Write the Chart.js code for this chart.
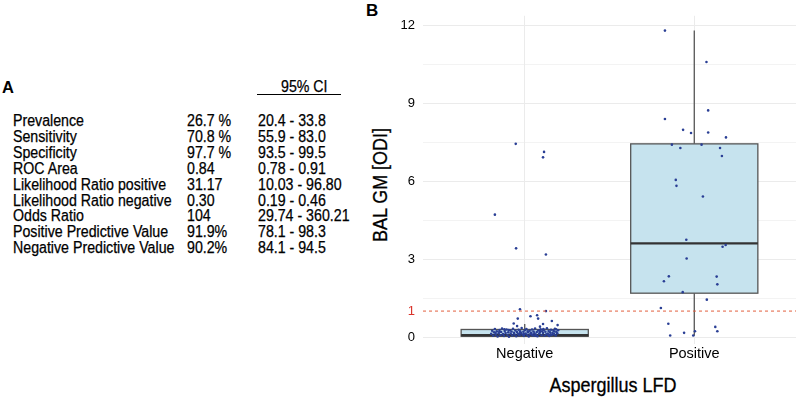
<!DOCTYPE html>
<html>
<head>
<meta charset="utf-8">
<script src="https://cdn.jsdelivr.net/npm/chart.js@4/dist/chart.umd.min.js"></script>
<style>
  html, body { margin: 0; padding: 0; background: #fff; }
  body { width: 800px; height: 398px; position: relative; overflow: hidden;
         font-family: "Liberation Sans", Arial, sans-serif; color: #000; }
  .t { position: absolute; white-space: nowrap; font-size: 15.6px; line-height: 16px;
       transform-origin: 0 50%; transform: scaleX(0.91); -webkit-text-stroke: 0.25px #000; }
  .big { position: absolute; font-weight: bold; font-size: 16.5px; line-height: 18px; }
  #wrap { position: absolute; left: 360px; top: 0; width: 440px; height: 398px; }
  #ytitle { position: absolute; left: 380px; top: 185px; font-size: 19.5px; white-space: nowrap;
            transform: translate(-50%, -50%) rotate(-90deg) scaleX(0.92); -webkit-text-stroke: 0.3px #000; }
  #xtitle { position: absolute; left: 613px; top: 385px; font-size: 20px; white-space: nowrap;
            transform: translate(-50%, -50%) scaleX(0.9); -webkit-text-stroke: 0.3px #000; }
</style>
</head>
<body>
<div class="big" style="left:2px;top:78px;">A</div>
<div class="t" style="left:281px;top:79px;">95% CI</div>
<div style="position:absolute;left:257px;top:94px;width:84px;border-top:1px solid #000;"></div>
<div id="table"></div>
<div class="big" style="left:366px;top:2px;font-size:17px;">B</div>
<div id="ytitle">BAL GM [ODI]</div>
<div id="xtitle">Aspergillus LFD</div>
<div id="wrap"><canvas id="c" width="440" height="398"></canvas></div>

<script>
// panel A
const statNames = ["Prevalence", "Sensitivity", "Specificity", "ROC Area",
  "Likelihood Ratio positive", "Likelihood Ratio negative", "Odds Ratio",
  "Positive Predictive Value", "Negative Predictive Value"];
const statValues = ["26.7 %", "70.8 %", "97.7 %", "0.84", "31.17", "0.30", "104", "91.9%", "90.2%"];
const statCI = ["20.4 - 33.8", "55.9 - 83.0", "93.5 - 99.5", "0.78 - 0.91", "10.03 - 96.80",
  "0.19 - 0.46", "29.74 - 360.21", "78.1 - 98.3", "84.1 - 94.5"];

// panel B
const groups = ["Negative", "Positive"];
const boxLow = [0.0, 0.05];
const boxQ1 = [0.03, 1.69];
const boxMedian = [0.07, 3.61];
const boxQ3 = [0.29, 7.45];
const boxHigh = [0.5, 11.82];
const cutoff = 1;
const yTickValues = [0, 1, 1.5, 3, 4.5, 6, 7.5, 9, 10.5, 12];

// jittered points: horizontal offset from the group centre, and the GM value
const negJitter = [-0.176, -0.051, 0.125, -0.053, 0.114, 0.108, -0.028, 0.125, 0.034, 0.073,
  -0.041, 0.079, -0.065, 0.16, 0.108, 0.194, -0.045, 0.09,
  -0.198, -0.192, -0.186, -0.181, -0.176, -0.171, -0.165, -0.160, -0.154, -0.149,
  -0.143, -0.139, -0.134, -0.128, -0.122, -0.118, -0.113, -0.107, -0.102, -0.097,
  -0.093, -0.088, -0.083, -0.078, -0.074, -0.069, -0.064, -0.060, -0.055, -0.050,
  -0.046, -0.041, -0.036, -0.031, -0.027, -0.022, -0.018, -0.013, -0.008, -0.004,
  0.001, 0.006, 0.010, 0.015, 0.020, 0.024, 0.029, 0.033, 0.038, 0.043,
  0.047, 0.052, 0.057, 0.061, 0.066, 0.071, 0.075, 0.080, 0.085, 0.089,
  0.094, 0.099, 0.103, 0.108, 0.113, 0.117, 0.122, 0.127, 0.131, 0.136,
  0.141, 0.145, 0.150, 0.155, 0.159, 0.164, 0.169, 0.173, 0.178, 0.183,
  0.187, 0.192, 0.197,
  -0.150, -0.095, -0.030, 0.018, 0.062, 0.110, 0.152, 0.175, -0.172, -0.120,
  -0.005, 0.044, 0.090, 0.140, 0.185];
const negValues = [4.72, 3.42, 3.18, 7.45, 7.14, 6.93, 1.07, 1.0, 0.8, 0.84,
  0.71, 0.71, 0.52, 0.62, 0.5, 0.46, 0.42, 0.4,
  0.12, 0.24, 0.05, 0.18, 0.31, 0.09, 0.22, 0.02, 0.14, 0.27,
  0.07, 0.19, 0.33, 0.11, 0.04, 0.23, 0.15, 0.29, 0.08, 0.18,
  0.01, 0.26, 0.13, 0.21, 0.06, 0.32, 0.16, 0.10, 0.25, 0.03,
  0.19, 0.12, 0.28, 0.07, 0.22, 0.15, 0.35, 0.09, 0.20, 0.04,
  0.26, 0.13, 0.31, 0.08, 0.18, 0.02, 0.24, 0.11, 0.16, 0.29,
  0.06, 0.21, 0.14, 0.33, 0.09, 0.19, 0.03, 0.25, 0.12, 0.17,
  0.30, 0.07, 0.22, 0.15, 0.27, 0.05, 0.20, 0.10, 0.34, 0.13,
  0.23, 0.04, 0.18, 0.28, 0.08, 0.15, 0.24, 0.11, 0.32, 0.06,
  0.19, 0.14, 0.26,
  0.20, 0.27, 0.14, 0.22, 0.05, 0.31, 0.10, 0.21, 0.15, 0.30,
  0.12, 0.09, 0.23, 0.07, 0.30];
const posJitter = [-0.173, 0.072, -0.173, 0.082, -0.066, -0.019, 0.082, 0.187, -0.132, 0.043,
  -0.082, 0.152, 0.163, -0.109, -0.105, 0.051, -0.047, 0.167, 0.185, -0.045,
  -0.150, -0.179, 0.132, 0.136, -0.068, 0.074, -0.197, -0.153, 0.124, 0.136,
  -0.142, -0.060, -0.006, 0.004];
const posValues = [11.82, 10.61, 8.41, 8.74, 7.99, 7.87, 7.89, 7.70, 7.42, 7.42,
  7.29, 7.29, 6.98, 6.06, 5.83, 5.42, 3.75, 3.48, 3.55, 3.03,
  2.34, 2.15, 2.33, 2.03, 1.73, 1.44, 1.12, 0.51, 0.39, 0.22,
  0.06, 0.16, 0.06, 0.22];

const table = document.getElementById("table");
statNames.forEach((name, i) => {
  const top = 113 + i * 15.9;
  [[name, 13], [statValues[i], 187], [statCI[i], 258]].forEach(([txt, left]) => {
    const d = document.createElement("div");
    d.className = "t";
    d.style.left = left + "px";
    d.style.top = top + "px";
    d.textContent = txt;
    table.appendChild(d);
  });
});

const fontFamily = '"Liberation Sans", Arial, sans-serif';

const boxPlugin = {
  id: "boxes",
  beforeDatasetsDraw(chart) {
    const { ctx, chartArea } = chart;
    const x = chart.scales.x, y = chart.scales.y;
    ctx.save();
    ctx.beginPath();
    ctx.rect(chartArea.left, chartArea.top, chartArea.width, chartArea.height);
    ctx.clip();
    groups.forEach((g, i) => {
      const cx = x.getPixelForValue(i + 1);
      const l = x.getPixelForValue(i + 1 - 0.375);
      const r = x.getPixelForValue(i + 1 + 0.375);
      const q1 = y.getPixelForValue(boxQ1[i]);
      const q3 = y.getPixelForValue(boxQ3[i]);
      ctx.strokeStyle = "#555";
      ctx.lineWidth = 1.3;
      ctx.beginPath();
      ctx.moveTo(cx, y.getPixelForValue(boxHigh[i]));
      ctx.lineTo(cx, q3);
      ctx.moveTo(cx, q1);
      ctx.lineTo(cx, y.getPixelForValue(boxLow[i]));
      ctx.stroke();
      ctx.fillStyle = "#c6e3ee";
      ctx.fillRect(l, q3, r - l, q1 - q3);
      ctx.strokeRect(l, q3, r - l, q1 - q3);
      ctx.strokeStyle = "#333";
      ctx.lineWidth = 2.4;
      ctx.beginPath();
      const m = y.getPixelForValue(boxMedian[i]);
      ctx.moveTo(l, m);
      ctx.lineTo(r, m);
      ctx.stroke();
    });
    ctx.restore();
  }
};

const pointColor = "#2a3f95";

new Chart(document.getElementById("c"), {
  type: "scatter",
  data: {
    datasets: [
      {
        type: "line",
        data: [{ x: 0.4, y: cutoff }, { x: 2.6, y: cutoff }],
        borderColor: "#e2603f",
        borderWidth: 1,
        borderDash: [3, 3],
        pointRadius: 0
      },
      {
        data: negValues.map((v, i) => ({ x: 1 + negJitter[i], y: v })),
        backgroundColor: pointColor,
        borderWidth: 0,
        pointRadius: 1.3
      },
      {
        data: posValues.map((v, i) => ({ x: 2 + posJitter[i], y: v })),
        backgroundColor: pointColor,
        borderWidth: 0,
        pointRadius: 1.3
      }
    ]
  },
  options: {
    responsive: false,
    animation: false,
    devicePixelRatio: 1,
    layout: { padding: { top: 12, left: 0, right: 0, bottom: 0 } },
    plugins: { legend: { display: false }, tooltip: { enabled: false } },
    scales: {
      x: {
        type: "linear",
        min: 0.4,
        max: 2.6,
        afterBuildTicks: (s) => { s.ticks = groups.map((g, i) => ({ value: i + 1 })); },
        afterFit: (s) => { s.height = 54; },
        border: { display: false },
        grid: { color: "#ebebeb", drawTicks: false },
        ticks: {
          padding: 1,
          color: "#000",
          font: { family: fontFamily, size: 14.5 },
          callback: (v, i) => groups[i]
        }
      },
      y: {
        min: -0.27,
        max: 12.39,
        afterBuildTicks: (s) => { s.ticks = yTickValues.map((v) => ({ value: v })); },
        afterFit: (s) => { s.width = 63; },
        border: { display: false },
        grid: {
          drawTicks: false,
          color: (c) => (c.tick && c.tick.value === cutoff ? "rgba(0,0,0,0)" : "#ebebeb"),
          lineWidth: (c) => (c.tick && c.tick.value % 3 === 0 ? 1 : 0.6)
        },
        ticks: {
          padding: 8,
          autoSkip: false,
          color: (c) => (c.tick && c.tick.value === cutoff ? "#d9342b" : "#000"),
          font: { family: fontFamily, size: 13 },
          callback: (v) => (v % 3 === 0 || v === cutoff ? String(v) : "")
        }
      }
    }
  },
  plugins: [boxPlugin]
});
</script>
</body>
</html>
